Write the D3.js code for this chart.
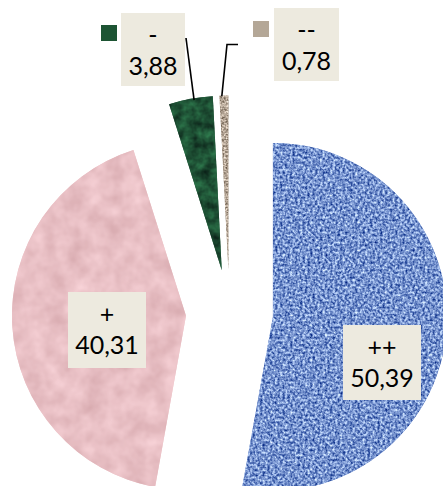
<!DOCTYPE html>
<html><head><meta charset="utf-8">
<script src="https://cdn.jsdelivr.net/npm/d3@7"></script>
<style>html,body{margin:0;padding:0;background:#fff;}svg{display:block;}</style>
</head><body>
<svg id="chart" width="443" height="486"></svg>
<script>
const categories = ["++", "+", "-", "--"];
const values = [50.39, 40.31, 3.88, 0.78];
const valueLabels = ["50,39", "40,31", "3,88", "0,78"];

// styling / layout (not data)
const baseColors = ["#6d8ccb", "#ebbcc0", "#1d5433", "#b4a797"];
// noise (R channel, mean ~0.5) -> colour: out = k*n + c
const noiseSpec = [
  {freq: "0.4 0.4", oct: 2, m: [1.4, -0.23, 1.3, -0.07, 0.9, 0.36]},
  {freq: "0.05 0.05", oct: 3, m: [0.2, 0.81, 0.25, 0.63, 0.25, 0.65]},
  {freq: "0.1 0.1", oct: 3, m: [0.2, 0.02, 0.5, 0.07, 0.3, 0.06]},
  {freq: "0.5 0.5", oct: 2, m: [1.2, 0.1, 1.2, 0.04, 1.2, -0.02]}
];
const W = 443, H = 486;
const cx = 229.5, cy = 313, R = 174, explode = 43.6;
const boxes = [
  {x: 343, y: 325, w: 78, h: 75},
  {x: 68, y: 292, w: 78, h: 76},
  {x: 121, y: 13, w: 64, h: 73},
  {x: 274, y: 8, w: 65, h: 73}
];
const keys = [null, null, {x: 101, y: 25, s: 16}, {x: 253, y: 21, s: 16}];

const svg = d3.select("#chart");
const defs = svg.append("defs");
noiseSpec.forEach((n, i) => {
  const f = defs.append("filter").attr("id", "tex" + i)
    .attr("x", 0).attr("y", 0).attr("width", "100%").attr("height", "100%")
    .attr("filterUnits", "objectBoundingBox").attr("color-interpolation-filters", "sRGB");
  f.append("feTurbulence").attr("type", "fractalNoise").attr("baseFrequency", n.freq)
    .attr("numOctaves", n.oct).attr("seed", 3 + i).attr("result", "noise");
  f.append("feColorMatrix").attr("in", "noise").attr("type", "matrix")
    .attr("values", `${n.m[0]} 0 0 0 ${n.m[1]}  ${n.m[2]} 0 0 0 ${n.m[3]}  ${n.m[4]} 0 0 0 ${n.m[5]}  0 0 0 0 1`)
    .attr("result", "col");
  f.append("feComposite").attr("in", "col").attr("in2", "SourceGraphic").attr("operator", "in");
});

const pie = d3.pie().sort(null).value(d => d)(values);
const arc = d3.arc().innerRadius(0).outerRadius(R);

const g = svg.append("g").attr("transform", `translate(${cx},${cy})`);
const slices = g.selectAll("g.slice").data(pie).join("g").attr("class", "slice")
  .attr("transform", d => {
    const a = (d.startAngle + d.endAngle) / 2;
    return `translate(${explode * Math.sin(a)},${-explode * Math.cos(a)})`;
  });
slices.append("path").attr("d", arc).attr("fill", (d, i) => baseColors[i]);
slices.append("path").attr("d", arc).attr("fill", "#000")
  .attr("filter", (d, i) => `url(#tex${i})`).attr("opacity", (d, i) => [0.9, 0.8, 0.9, 0.8][i]);

// leader lines
const outerTop = i => {
  const d = pie[i];
  const a = (d.startAngle + d.endAngle) / 2;
  const ox = cx + explode * Math.sin(a), oy = cy - explode * Math.cos(a);
  const am = d.startAngle + (d.endAngle - d.startAngle) * 0.6;
  return [ox + R * Math.sin(am), oy - R * Math.cos(am)];
};
const p2 = outerTop(2);
svg.append("path").attr("d", `M${boxes[2].x + boxes[2].w + 1},${38} L${p2[0] - 1},${p2[1] + 2}`)
  .attr("stroke", "#000").attr("stroke-width", 1.6).attr("fill", "none");
const p3 = outerTop(3);
svg.append("path").attr("d", `M238,44.5 L227,44.5 L${p3[0] - 3},${p3[1] + 1}`)
  .attr("stroke", "#000").attr("stroke-width", 1.6).attr("fill", "none");

// labels
categories.forEach((c, i) => {
  const b = boxes[i];
  svg.append("rect").attr("x", b.x).attr("y", b.y).attr("width", b.w).attr("height", b.h)
    .attr("fill", "#edeadf");
  const tx = b.x + b.w / 2;
  svg.append("text").attr("x", tx).attr("y", b.y + 31).attr("text-anchor", "middle")
    .attr("font-family", "Lato, 'Open Sans', sans-serif").attr("font-size", 25).attr("fill", "#000")
    .text(c);
  svg.append("text").attr("x", tx).attr("y", b.y + 62).attr("text-anchor", "middle")
    .attr("font-family", "Lato, 'Open Sans', sans-serif").attr("font-size", 25).attr("fill", "#000")
    .text(valueLabels[i]);
  const k = keys[i];
  if (k) {
    svg.append("rect").attr("x", k.x).attr("y", k.y).attr("width", k.s).attr("height", k.s)
      .attr("fill", baseColors[i]);
  }
});
</script>
</body></html>
